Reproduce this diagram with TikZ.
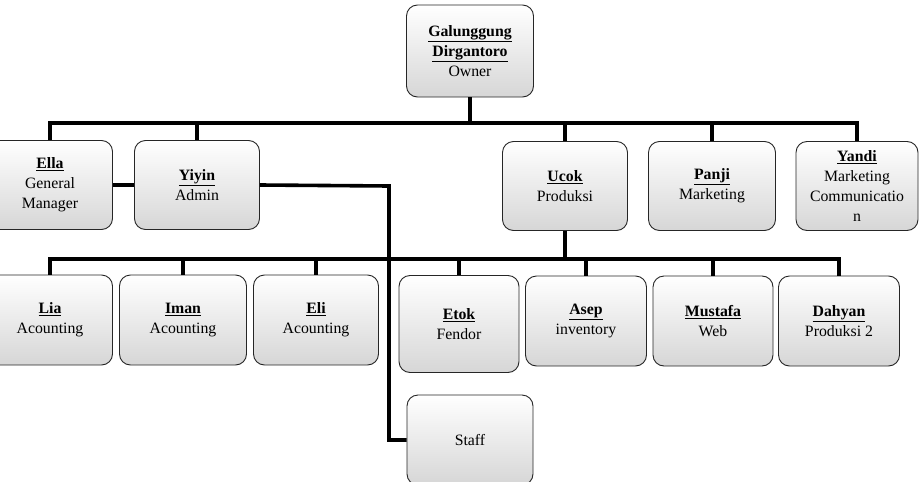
\documentclass[tikz,border=0pt]{standalone}
\usepackage{fontspec}
\setmainfont{Liberation Serif}
\usetikzlibrary{positioning, calc, shadings}

\newcommand{\pname}[1]{\textbf{\underline{#1}}}

\begin{document}
\begin{tikzpicture}[
  x=1pt, y=-1pt,
  unit/.style={draw=black!85, line width=0.9pt, rounded corners=11pt, align=center,
              top color=white, bottom color=gray!32,
              font=\fontsize{15.8}{20}\selectfont,
              minimum width=125pt, minimum height=89pt, inner sep=2pt},
  subunit/.style={unit, minimum width=121pt, minimum height=90pt},
  conn/.style={line width=3.6pt, black},
]
\useasboundingbox (0,0) rectangle (924,482);

% --- lines first, boxes drawn over them ---
\coordinate (busA) at (470,123);
\coordinate (busB) at (565,259);
\coordinate (staffjog) at (389,186);

% --- owner ---
\node[unit, minimum width=127pt, minimum height=92pt] (owner) at (470,51)
  {\pname{Galunggung}\\ \pname{Dirgantoro}\\ Owner};

% --- first level ---
\node[unit] (ella)  at (50,185)  {\pname{Ella}\\ General\\ Manager};
\node[unit] (yiyin) at (197,185) {\pname{Yiyin}\\ Admin};
\node[unit] (ucok)  at (565,186) {\pname{Ucok}\\ Produksi};
\node[unit, minimum width=127pt] (panji) at (712,186) {\pname{Panji}\\ Marketing};
\node[unit, minimum width=122pt] (yandi) at (857,186)
  {\pname{Yandi}\\ Marketing\\ Communicatio\\ n};

% --- second level ---
\node[unit, minimum height=90pt] (lia)  at (50,320)  {\pname{Lia}\\ Acounting};
\node[unit, minimum height=90pt, minimum width=127pt] (iman) at (183,320) {\pname{Iman}\\ Acounting};
\node[unit, minimum height=90pt] (eli)  at (316,320) {\pname{Eli}\\ Acounting};
\node[subunit, minimum width=120pt, minimum height=97pt] (etok) at (459,324) {\pname{Etok}\\ Fendor};
\node[subunit] (asep)    at (586,321) {\pname{Asep}\\ inventory};
\node[subunit, minimum width=120pt] (mustafa) at (713,321) {\pname{Mustafa}\\ Web};
\node[subunit] (dahyan)  at (839,321) {\pname{Dahyan}\\ Produksi 2};

% --- staff ---
\node[unit, minimum width=126pt, minimum height=90pt] (staff) at (470,440) {Staff};

% --- owner to first level ---
\draw[conn] (owner.south) -- (busA);
\draw[conn] (ella.north) |- (busA) -| (yandi.north);
\foreach \n in {yiyin, ucok, panji}
  \draw[conn] (\n.north) -- (\n.north |- busA);

% --- side links ---
\draw[conn] (ella.east) -- (yiyin.west);
\draw[conn] (yiyin.east) -- (staffjog) |- (staff.west);

% --- ucok to second level ---
\draw[conn] (ucok.south) -- (busB);
\draw[conn] (lia.north) |- (busB) -| (dahyan.north);
\foreach \n in {iman, eli, etok, asep, mustafa}
  \draw[conn] (\n.north) -- (\n.north |- busB);

\end{tikzpicture}
\end{document}
